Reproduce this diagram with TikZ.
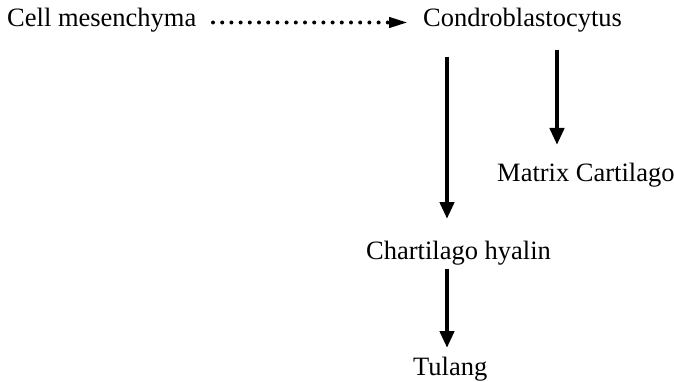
\documentclass[tikz,border=0pt]{standalone}
\usepackage{fontspec}
\setmainfont{Liberation Serif}
\usetikzlibrary{arrows.meta,positioning,calc}
\tikzset{
    % text labels
    lbl/.style={
           inner sep=0pt,
           anchor=base west,
           font=\fontsize{26.5}{30}\selectfont,
           },
    % solid arrow
    pil/.style={
           -{Triangle[width=14pt,length=17pt]},
           line width=4.5pt,
           },
    % dotted arrow
    pildot/.style={
           -{Triangle[width=10pt,length=19pt]},
           line width=4pt,
           line cap=round,
           dash pattern=on 0pt off 9.2pt,
           },
}
\begin{document}
\begin{tikzpicture}[x=1pt,y=-1pt]
  \useasboundingbox[fill=white] (0,0) rectangle (674,382);
  \node[lbl] (mesen) at (7,27) {Cell mesenchyma};
  \node[lbl] (condro) at (423,27) {Condroblastocytus};
  \node[lbl] (matrix) at (497,182) {Matrix Cartilago};
  \node[lbl] (hyalin) at (366,259) {Chartilago hyalin};
  \node[lbl] (tulang) at (413,375) {Tulang};
  \draw [pildot] ([shift={(206,-4.5)}]mesen.base west) -- ([shift={(-15,-4.5)}]condro.base west);
  \draw [pil] ([shift={(24,30)}]condro.base west) -- ([shift={(81,-40)}]hyalin.base west);
  \draw [pil] ([shift={(134,23)}]condro.base west) -- ([shift={(60,-37)}]matrix.base west);
  \draw [pil] ([shift={(81,10)}]hyalin.base west) -- ([shift={(34,-27)}]tulang.base west);
\end{tikzpicture}
\end{document}
